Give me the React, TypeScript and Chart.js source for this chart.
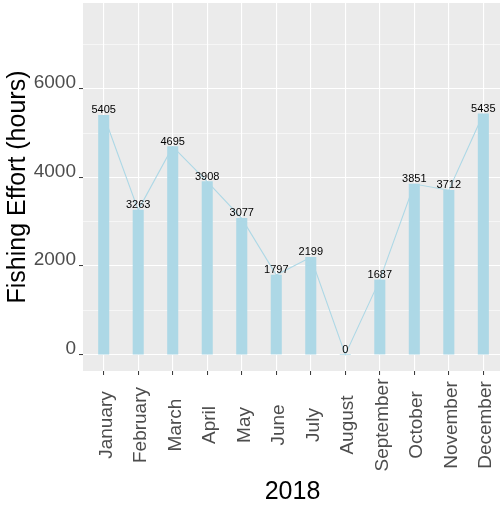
import React, { useEffect, useRef } from 'react';
import { Chart, registerables } from 'chart.js';

Chart.register(...registerables);

const months = ['January', 'February', 'March', 'April', 'May', 'June', 'July', 'August', 'September', 'October', 'November', 'December'];
const effortHours = [5405, 3263, 4695, 3908, 3077, 1797, 2199, 0, 1687, 3851, 3712, 5435];
const yGridValues = [0, 1000, 2000, 3000, 4000, 5000, 6000, 7000];
const yLabelValues = [0, 2000, 4000, 6000];
const xTitle = '2018';
const yTitle = 'Fishing Effort (hours)';

const FONT = '"Liberation Sans", Arial, Helvetica, sans-serif';
const BAR_COLOR = '#ADD8E6';
const PANEL_BG = '#EBEBEB';
const TEXT_GREY = '#4D4D4D';

export default function App() {
  const canvasRef = useRef<HTMLCanvasElement | null>(null);

  useEffect(() => {
    const canvas = canvasRef.current;
    if (!canvas) return;

    const points = effortHours.map((v, i) => ({ x: i, y: v }));

    const panelPlugin = {
      id: 'panelBg',
      beforeDraw(chart: any) {
        const { ctx, chartArea } = chart;
        ctx.save();
        ctx.fillStyle = PANEL_BG;
        ctx.fillRect(chartArea.left, chartArea.top, chartArea.right - chartArea.left, chartArea.bottom - chartArea.top);
        ctx.restore();
      },
    };

    const textPlugin = {
      id: 'texts',
      afterDraw(chart: any) {
        const { ctx, chartArea } = chart;
        const xScale = chart.scales.x;
        ctx.save();
        // value labels above bars
        const meta = chart.getDatasetMeta(0);
        ctx.fillStyle = '#000000';
        ctx.font = `11px ${FONT}`;
        ctx.textAlign = 'center';
        ctx.textBaseline = 'alphabetic';
        meta.data.forEach((el: any, i: number) => {
          ctx.fillText(String(effortHours[i]), el.x, el.y - 2);
        });
        // rotated month labels
        ctx.fillStyle = TEXT_GREY;
        ctx.font = `19px ${FONT}`;
        months.forEach((m, i) => {
          const px = xScale.getPixelForValue(i);
          ctx.save();
          ctx.translate(px + 8, 425);
          ctx.rotate(-Math.PI / 2);
          ctx.textAlign = 'center';
          ctx.textBaseline = 'alphabetic';
          ctx.fillText(m, 0, 0);
          ctx.restore();
        });
        // x title
        ctx.fillStyle = '#000000';
        ctx.font = `25px ${FONT}`;
        ctx.textAlign = 'center';
        ctx.textBaseline = 'alphabetic';
        ctx.fillText(xTitle, (chartArea.left + chartArea.right) / 2 + 1, 499);
        ctx.restore();
      },
    };

    const chart = new Chart(canvas, {
      type: 'bar',
      data: {
        datasets: [
          {
            type: 'bar',
            data: points,
            backgroundColor: BAR_COLOR,
            borderWidth: 0,
            barThickness: 10.4,
            order: 2,
          } as any,
          {
            type: 'line',
            data: points,
            borderColor: BAR_COLOR,
            borderWidth: 1.1,
            pointRadius: 0,
            fill: false,
            tension: 0,
            order: 1,
          } as any,
        ],
      },
      options: {
        responsive: false,
        animation: false,
        layout: { padding: { top: 3, right: 0, bottom: 0, left: 0 } },
        plugins: {
          legend: { display: false },
          tooltip: { enabled: false },
        },
        scales: {
          x: {
            type: 'linear',
            min: -0.6,
            max: 11.483,
            offset: false,
            afterBuildTicks: (scale: any) => {
              scale.ticks = months.map((_, i) => ({ value: i }));
            },
            afterFit: (scale: any) => {
              scale.height = 143;
              scale.paddingLeft = 0;
              scale.paddingRight = 0;
            },
            ticks: { display: false },
            grid: {
              color: '#FFFFFF',
              lineWidth: 1.1,
              drawTicks: true,
              tickLength: 4,
              tickColor: '#333333',
              tickWidth: 1,
              offset: false,
            },
            border: { display: false },
          },
          y: {
            type: 'linear',
            min: -370,
            max: 7940,
            afterBuildTicks: (scale: any) => {
              scale.ticks = yGridValues.map((v) => ({ value: v }));
            },
            afterFit: (scale: any) => {
              scale.width = 83;
              scale.paddingTop = 0;
              scale.paddingBottom = 0;
            },
            ticks: {
              autoSkip: false,
              padding: 3,
              labelOffset: -6,
              color: TEXT_GREY,
              font: { family: FONT, size: 19 },
              callback: (v: any) => (yLabelValues.includes(Number(v)) ? String(v) : ''),
            },
            grid: {
              color: '#FFFFFF',
              lineWidth: (ctx: any) => (ctx.tick && yLabelValues.includes(ctx.tick.value) ? 1.1 : 0.55),
              drawTicks: true,
              tickLength: 4,
              tickWidth: 1,
              tickColor: (ctx: any) => (ctx.tick && yLabelValues.includes(ctx.tick.value) ? '#333333' : 'rgba(0,0,0,0)'),
            },
            border: { display: false },
            title: {
              display: true,
              text: yTitle,
              color: '#000000',
              font: { family: FONT, size: 25 },
              padding: { top: 3, bottom: 0 },
            },
          },
        },
      },
      plugins: [panelPlugin, textPlugin],
    });

    return () => {
      chart.destroy();
    };
  }, []);

  return (
    <div style={{ position: 'fixed', left: 0, top: 0, width: 500, height: 514, background: '#FFFFFF' }}>
      <canvas ref={canvasRef} width={500} height={514} style={{ display: 'block', width: 500, height: 514 }} />
    </div>
  );
}
